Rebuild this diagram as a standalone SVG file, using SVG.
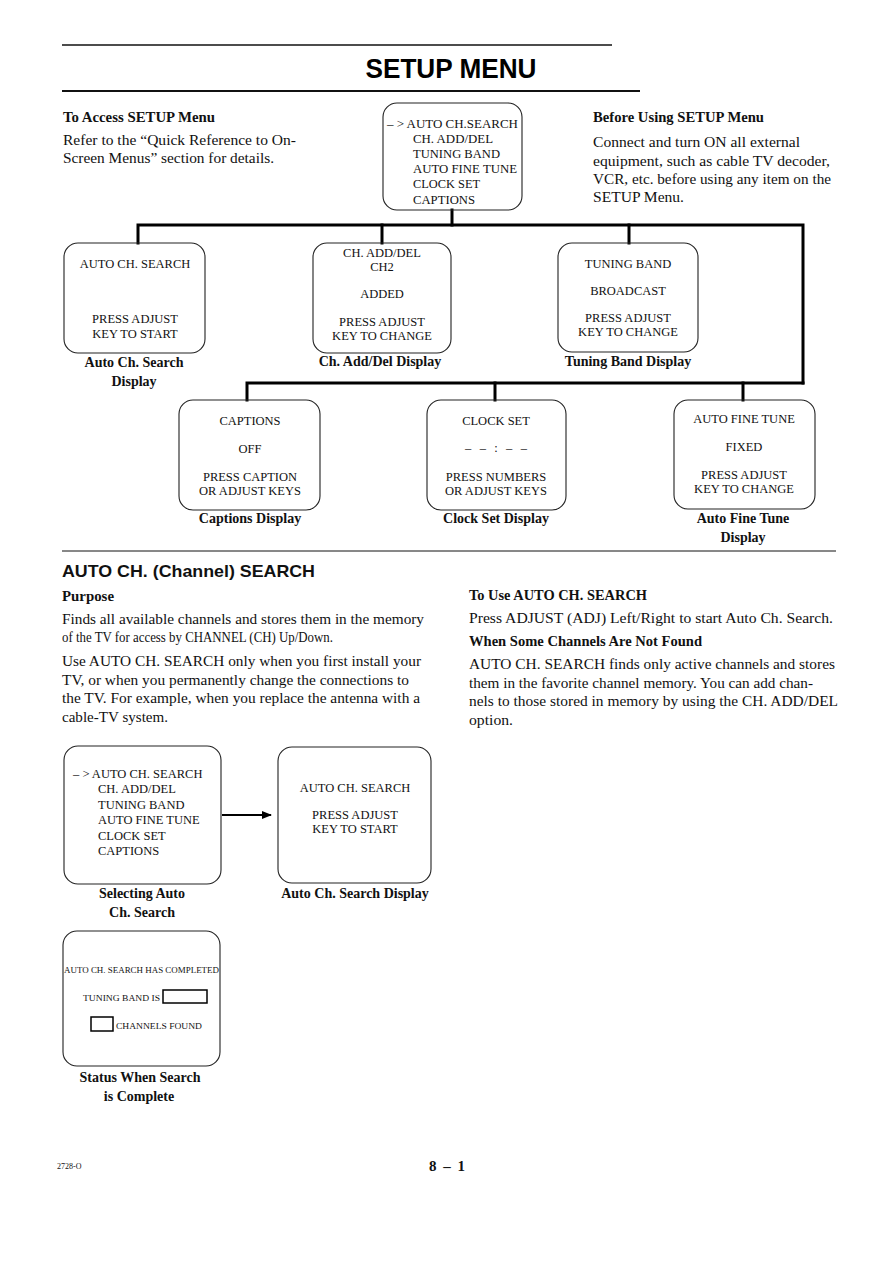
<svg xmlns="http://www.w3.org/2000/svg" width="893" height="1263" viewBox="0 0 893 1263">
<style>
.bg{fill:#fff}
.box{fill:none;stroke:#222;stroke-width:1.1}
.t{font-family:"Liberation Serif","Times New Roman",serif;font-size:12.5px;fill:#111}
.tc{font-family:"Liberation Serif","Times New Roman",serif;font-size:12.5px;fill:#111;text-anchor:middle}
.cap{font-family:"Liberation Serif","Times New Roman",serif;font-size:14px;font-weight:bold;fill:#111;text-anchor:middle}
.body{font-family:"Liberation Serif","Times New Roman",serif;font-size:15px;fill:#111}
.bh{font-family:"Liberation Serif","Times New Roman",serif;font-size:14px;font-weight:bold;fill:#111}
.small{font-family:"Liberation Serif","Times New Roman",serif;font-size:9px;fill:#111}
.conn{stroke:#000;stroke-width:3;fill:none;stroke-linecap:square}
.rule{stroke:#111;fill:none}
</style>
<defs>
<marker id="ah" markerWidth="10" markerHeight="8" refX="9" refY="4" orient="auto" markerUnits="userSpaceOnUse">
<polygon points="0,0 10,4 0,8" fill="#000"/>
</marker>
</defs>
<rect class="bg" x="0" y="0" width="893" height="1263"/>

<g id="header">
<line class="rule" x1="62" y1="45" x2="612" y2="45" stroke-width="1.5"/>
<text x="451" y="78" text-anchor="middle" font-family="Liberation Sans, Arial, sans-serif" font-size="27" font-weight="bold" textLength="171" lengthAdjust="spacingAndGlyphs">SETUP MENU</text>
<line class="rule" x1="62" y1="91" x2="640" y2="91" stroke-width="2"/>
</g>

<g id="access-text">
<text class="bh" x="63" y="122" textLength="152" lengthAdjust="spacingAndGlyphs">To Access SETUP Menu</text>
<text class="body" x="63" y="145" textLength="233" lengthAdjust="spacingAndGlyphs">Refer to the “Quick Reference to On-</text>
<text class="body" x="63" y="163" textLength="211" lengthAdjust="spacingAndGlyphs">Screen Menus” section for details.</text>
</g>

<g id="before-text">
<text class="bh" x="593" y="122" textLength="171" lengthAdjust="spacingAndGlyphs">Before Using SETUP Menu</text>
<text class="body" x="593" y="147" textLength="207" lengthAdjust="spacingAndGlyphs">Connect and turn ON all external</text>
<text class="body" x="593" y="166" textLength="237" lengthAdjust="spacingAndGlyphs">equipment, such as cable TV decoder,</text>
<text class="body" x="593" y="184" textLength="238" lengthAdjust="spacingAndGlyphs">VCR, etc. before using any item on the</text>
<text class="body" x="593" y="202" textLength="91" lengthAdjust="spacingAndGlyphs">SETUP Menu.</text>
</g>

<g id="connectors">
<polyline class="conn" points="452,210 452,225"/>
<polyline class="conn" points="138,243 138,225 803,225 803,383"/>
<line class="conn" x1="382" y1="225" x2="382" y2="243"/>
<line class="conn" x1="629" y1="225" x2="629" y2="243"/>
<polyline class="conn" points="247,400 247,383 803,383"/>
<line class="conn" x1="495" y1="383" x2="495" y2="400"/>
<line class="conn" x1="743" y1="383" x2="743" y2="400"/>
<line x1="222" y1="815" x2="271" y2="815" stroke="#000" stroke-width="2.2" marker-end="url(#ah)"/>
</g>

<g id="node-setup-menu">
<rect class="box" x="383" y="103" width="139" height="107" rx="14"/>
<text class="t" x="387" y="128" textLength="131" lengthAdjust="spacingAndGlyphs">– &gt; AUTO CH.SEARCH</text>
<text class="t" x="413" y="143" textLength="80" lengthAdjust="spacingAndGlyphs">CH. ADD/DEL</text>
<text class="t" x="413" y="158" textLength="87" lengthAdjust="spacingAndGlyphs">TUNING BAND</text>
<text class="t" x="413" y="173" textLength="104" lengthAdjust="spacingAndGlyphs">AUTO FINE TUNE</text>
<text class="t" x="413" y="188" textLength="67" lengthAdjust="spacingAndGlyphs">CLOCK SET</text>
<text class="t" x="413" y="204" textLength="62" lengthAdjust="spacingAndGlyphs">CAPTIONS</text>
</g>

<g id="node-auto-ch-search">
<rect class="box" x="64" y="243" width="141" height="110" rx="14"/>
<text class="tc" x="135" y="268">AUTO CH. SEARCH</text>
<text class="tc" x="135" y="323">PRESS ADJUST</text>
<text class="tc" x="135" y="338">KEY TO START</text>
<text class="cap" x="134" y="367">Auto Ch. Search</text>
<text class="cap" x="134" y="386">Display</text>
</g>

<g id="node-ch-add-del">
<rect class="box" x="313" y="243" width="138" height="110" rx="14"/>
<text class="tc" x="382" y="257">CH. ADD/DEL</text>
<text class="tc" x="382" y="271">CH2</text>
<text class="tc" x="382" y="298">ADDED</text>
<text class="tc" x="382" y="326">PRESS ADJUST</text>
<text class="tc" x="382" y="340">KEY TO CHANGE</text>
<text class="cap" x="380" y="366">Ch. Add/Del Display</text>
</g>

<g id="node-tuning-band">
<rect class="box" x="558" y="243" width="140" height="109" rx="14"/>
<text class="tc" x="628" y="268">TUNING BAND</text>
<text class="tc" x="628" y="295">BROADCAST</text>
<text class="tc" x="628" y="322">PRESS ADJUST</text>
<text class="tc" x="628" y="336">KEY TO CHANGE</text>
<text class="cap" x="628" y="366">Tuning Band Display</text>
</g>

<g id="node-captions">
<rect class="box" x="179" y="400" width="141" height="110" rx="14"/>
<text class="tc" x="250" y="425">CAPTIONS</text>
<text class="tc" x="250" y="453">OFF</text>
<text class="tc" x="250" y="481">PRESS CAPTION</text>
<text class="tc" x="250" y="495">OR ADJUST KEYS</text>
<text class="cap" x="250" y="523">Captions Display</text>
</g>

<g id="node-clock-set">
<rect class="box" x="427" y="400" width="139" height="110" rx="14"/>
<text class="tc" x="496" y="425">CLOCK SET</text>
<text class="tc" x="496" y="452" textLength="62" lengthAdjust="spacing">– – : – –</text>
<text class="tc" x="496" y="481">PRESS NUMBERS</text>
<text class="tc" x="496" y="495">OR ADJUST KEYS</text>
<text class="cap" x="496" y="523">Clock Set Display</text>
</g>

<g id="node-auto-fine-tune">
<rect class="box" x="674" y="400" width="141" height="109" rx="14"/>
<text class="tc" x="744" y="423">AUTO FINE TUNE</text>
<text class="tc" x="744" y="451">FIXED</text>
<text class="tc" x="744" y="479">PRESS ADJUST</text>
<text class="tc" x="744" y="493">KEY TO CHANGE</text>
<text class="cap" x="743" y="523">Auto Fine Tune</text>
<text class="cap" x="743" y="542">Display</text>
</g>

<line class="rule" x1="62" y1="551" x2="836" y2="551" stroke-width="1"/>

<g id="section-text">
<text x="62" y="577" font-family="Liberation Sans, Arial, sans-serif" font-size="17" font-weight="bold" fill="#111" textLength="253" lengthAdjust="spacingAndGlyphs">AUTO CH. (Channel) SEARCH</text>
<text class="bh" x="62" y="601" textLength="52" lengthAdjust="spacingAndGlyphs">Purpose</text>
<text class="body" x="62" y="624" textLength="362" lengthAdjust="spacingAndGlyphs">Finds all available channels and stores them in the memory</text>
<text class="body" x="62" y="642" textLength="271" lengthAdjust="spacingAndGlyphs">of the TV for access by CHANNEL (CH) Up/Down.</text>
<text class="body" x="62" y="666" textLength="359" lengthAdjust="spacingAndGlyphs">Use AUTO CH. SEARCH only when you first install your</text>
<text class="body" x="62" y="685" textLength="347" lengthAdjust="spacingAndGlyphs">TV, or when you permanently change the connections to</text>
<text class="body" x="62" y="703" textLength="358" lengthAdjust="spacingAndGlyphs">the TV. For example, when you replace the antenna with a</text>
<text class="body" x="62" y="722" textLength="106" lengthAdjust="spacingAndGlyphs">cable-TV system.</text>
<text class="bh" x="469" y="600" textLength="178" lengthAdjust="spacingAndGlyphs">To Use AUTO CH. SEARCH</text>
<text class="body" x="469" y="623" textLength="364" lengthAdjust="spacingAndGlyphs">Press ADJUST (ADJ) Left/Right to start Auto Ch. Search.</text>
<text class="bh" x="469" y="646" textLength="233" lengthAdjust="spacingAndGlyphs">When Some Channels Are Not Found</text>
<text class="body" x="469" y="669" textLength="366" lengthAdjust="spacingAndGlyphs">AUTO CH. SEARCH finds only active channels and stores</text>
<text class="body" x="469" y="688" textLength="344" lengthAdjust="spacingAndGlyphs">them in the favorite channel memory. You can add chan-</text>
<text class="body" x="469" y="706" textLength="369" lengthAdjust="spacingAndGlyphs">nels to those stored in memory by using the CH. ADD/DEL</text>
<text class="body" x="469" y="725" textLength="44" lengthAdjust="spacingAndGlyphs">option.</text>
</g>

<g id="node-selecting">
<rect class="box" x="64" y="746" width="157" height="138" rx="14"/>
<text class="t" x="73" y="778">– &gt; AUTO CH. SEARCH</text>
<text class="t" x="98" y="793">CH. ADD/DEL</text>
<text class="t" x="98" y="809">TUNING BAND</text>
<text class="t" x="98" y="824">AUTO FINE TUNE</text>
<text class="t" x="98" y="840">CLOCK SET</text>
<text class="t" x="98" y="855">CAPTIONS</text>
<text class="cap" x="142" y="898">Selecting Auto</text>
<text class="cap" x="142" y="917">Ch. Search</text>
</g>

<g id="node-auto-search-display">
<rect class="box" x="278" y="747" width="153" height="136" rx="14"/>
<text class="tc" x="355" y="792">AUTO CH. SEARCH</text>
<text class="tc" x="355" y="819">PRESS ADJUST</text>
<text class="tc" x="355" y="833">KEY TO START</text>
<text class="cap" x="355" y="898">Auto Ch. Search Display</text>
</g>

<g id="node-status">
<rect class="box" x="63" y="931" width="157" height="135" rx="14"/>
<text class="small" x="64" y="973" textLength="155" lengthAdjust="spacingAndGlyphs">AUTO CH. SEARCH HAS COMPLETED</text>
<text class="small" x="83" y="1001" textLength="77" lengthAdjust="spacingAndGlyphs">TUNING BAND IS</text>
<rect x="163" y="990" width="44" height="13" fill="none" stroke="#000" stroke-width="1.5"/>
<rect x="91" y="1017" width="22" height="14" fill="none" stroke="#000" stroke-width="1.5"/>
<text class="small" x="116" y="1029" textLength="86" lengthAdjust="spacingAndGlyphs">CHANNELS FOUND</text>
<text class="cap" x="140" y="1082">Status When Search</text>
<text class="cap" x="139" y="1101">is Complete</text>
</g>

<g id="footer">
<text x="57" y="1169" font-family="Liberation Serif, Times New Roman, serif" font-size="8" fill="#111">2728-O</text>
<text x="447" y="1171" text-anchor="middle" font-family="Liberation Serif, Times New Roman, serif" font-size="15" font-weight="bold" fill="#111" textLength="36" lengthAdjust="spacing">8 – 1</text>
</g>
</svg>
